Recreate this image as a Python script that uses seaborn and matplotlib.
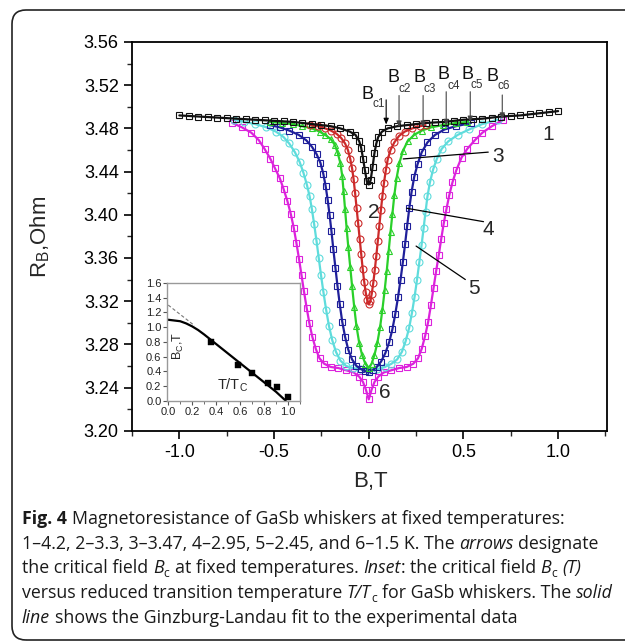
import matplotlib
matplotlib.use("Agg")
import matplotlib.pyplot as plt
import seaborn as sns
from matplotlib.patches import FancyBboxPatch
from matplotlib.transforms import IdentityTransform
from matplotlib.ticker import MultipleLocator, FormatStrFormatter

# --- data: R_B (Ohm) versus B (T) ---
black_b = [-1.0, -0.95, -0.9, -0.85, -0.8, -0.75, -0.7, -0.65, -0.6, -0.55, -0.5, -0.45, -0.4, -0.35,
           -0.3, -0.25, -0.2, -0.15, -0.1, -0.07, -0.05, -0.04, -0.03, -0.02, -0.01, 0.0, 0.01, 0.02,
           0.03, 0.04, 0.05, 0.07, 0.1, 0.15, 0.2, 0.25, 0.3, 0.35, 0.4, 0.45, 0.5, 0.55, 0.6, 0.65,
           0.7, 0.75, 0.8, 0.85, 0.9, 0.95, 1.0]
black_r = [3.492, 3.4915, 3.491, 3.4905, 3.490, 3.4895, 3.489, 3.4885, 3.488, 3.4875, 3.487, 3.4865,
           3.486, 3.485, 3.484, 3.483, 3.482, 3.480, 3.477, 3.474, 3.468, 3.462, 3.452, 3.441, 3.431,
           3.428, 3.432, 3.444, 3.457, 3.466, 3.472, 3.477, 3.480, 3.482, 3.483, 3.484, 3.485, 3.4855,
           3.486, 3.487, 3.488, 3.4885, 3.489, 3.490, 3.491, 3.4915, 3.492, 3.493, 3.494, 3.495, 3.496]

red_b = [-0.31, -0.27, -0.23, -0.2, -0.17, -0.145, -0.125, -0.11, -0.098, -0.088, -0.08, -0.072,
         -0.064, -0.056, -0.048, -0.04, -0.032, -0.024, -0.016, -0.008, 0.0, 0.008, 0.016, 0.024,
         0.032, 0.04, 0.048, 0.056, 0.064, 0.072, 0.08, 0.09, 0.1, 0.115, 0.135, 0.16, 0.19, 0.23,
         0.27, 0.3]
red_r = [3.483, 3.482, 3.480, 3.478, 3.475, 3.471, 3.466, 3.460, 3.452, 3.443, 3.433, 3.420, 3.406,
         3.392, 3.378, 3.364, 3.350, 3.338, 3.328, 3.321, 3.317, 3.320, 3.327, 3.337, 3.349, 3.362,
         3.376, 3.390, 3.404, 3.417, 3.429, 3.441, 3.451, 3.460, 3.467, 3.473, 3.477, 3.480, 3.482,
         3.483]

green_b = [-0.52, -0.46, -0.4, -0.35, -0.3, -0.26, -0.23, -0.2, -0.18, -0.165, -0.15, -0.14, -0.133,
           -0.125, -0.117, -0.108, -0.098, -0.088, -0.077, -0.065, -0.05, -0.035, -0.018, 0.0, 0.015,
           0.03, 0.045, 0.06, 0.072, 0.084, 0.095, 0.105, 0.115, 0.125, 0.135, 0.147, 0.162, 0.18,
           0.205, 0.24, 0.28, 0.33, 0.39, 0.46, 0.52]
green_r = [3.486, 3.485, 3.484, 3.482, 3.480, 3.477, 3.474, 3.470, 3.465, 3.458, 3.448, 3.436, 3.422,
           3.405, 3.388, 3.370, 3.352, 3.334, 3.315, 3.297, 3.281, 3.270, 3.262, 3.258, 3.262, 3.270,
           3.281, 3.296, 3.312, 3.330, 3.348, 3.366, 3.384, 3.401, 3.418, 3.434, 3.448, 3.459, 3.468,
           3.474, 3.478, 3.481, 3.483, 3.485, 3.486]

blue_b = [-0.52, -0.47, -0.42, -0.37, -0.33, -0.3, -0.275, -0.255, -0.24, -0.228, -0.217, -0.207,
          -0.197, -0.187, -0.176, -0.165, -0.153, -0.14, -0.125, -0.108, -0.088, -0.065, -0.04,
          -0.018, 0.0, 0.02, 0.042, 0.065, 0.088, 0.108, 0.125, 0.14, 0.155, 0.168, 0.18, 0.192,
          0.203, 0.214, 0.226, 0.24, 0.258, 0.28, 0.31, 0.35, 0.4, 0.46, 0.54]
blue_r = [3.483, 3.481, 3.478, 3.474, 3.469, 3.463, 3.456, 3.448, 3.438, 3.427, 3.414, 3.400, 3.385,
          3.368, 3.351, 3.334, 3.317, 3.301, 3.287, 3.275, 3.266, 3.260, 3.257, 3.255, 3.254, 3.256,
          3.259, 3.264, 3.272, 3.282, 3.294, 3.308, 3.324, 3.340, 3.356, 3.373, 3.390, 3.406, 3.421,
          3.435, 3.447, 3.458, 3.467, 3.474, 3.479, 3.482, 3.485]

cyan_b = [-0.71, -0.66, -0.6, -0.54, -0.49, -0.45, -0.42, -0.39, -0.365, -0.345, -0.327, -0.312,
          -0.3, -0.288, -0.276, -0.264, -0.252, -0.239, -0.225, -0.21, -0.193, -0.173, -0.15, -0.12,
          -0.085, -0.045, 0.0, 0.045, 0.085, 0.12, 0.15, 0.175, 0.195, 0.213, 0.228, 0.242, 0.255,
          0.267, 0.279, 0.29, 0.3, 0.31, 0.323, 0.34, 0.36, 0.385, 0.42, 0.47, 0.53, 0.6, 0.68]
cyan_r = [3.488, 3.486, 3.484, 3.481, 3.477, 3.472, 3.466, 3.458, 3.449, 3.439, 3.428, 3.417, 3.405,
          3.391, 3.376, 3.360, 3.344, 3.328, 3.312, 3.297, 3.284, 3.273, 3.265, 3.260, 3.258, 3.257,
          3.256, 3.257, 3.259, 3.262, 3.266, 3.273, 3.283, 3.295, 3.309, 3.324, 3.340, 3.356, 3.372,
          3.388, 3.403, 3.417, 3.430, 3.442, 3.452, 3.461, 3.468, 3.474, 3.479, 3.484, 3.488]

pink_b = [-0.72, -0.67, -0.62, -0.58, -0.55, -0.52, -0.495, -0.47, -0.45, -0.43, -0.412, -0.396,
          -0.382, -0.368, -0.355, -0.342, -0.328, -0.314, -0.298, -0.28, -0.26, -0.235, -0.2, -0.16,
          -0.12, -0.08, -0.05, -0.03, -0.015, 0.0, 0.015, 0.03, 0.05, 0.08, 0.12, 0.16, 0.2, 0.235,
          0.26, 0.28, 0.298, 0.314, 0.328, 0.342, 0.356, 0.37, 0.383, 0.396, 0.41, 0.425, 0.442,
          0.462, 0.49, 0.52, 0.56, 0.6, 0.65, 0.71]
pink_r = [3.485, 3.481, 3.476, 3.469, 3.461, 3.452, 3.443, 3.434, 3.424, 3.413, 3.401, 3.388, 3.374,
          3.359, 3.344, 3.329, 3.314, 3.300, 3.287, 3.276, 3.267, 3.262, 3.259, 3.258, 3.256, 3.254,
          3.250, 3.245, 3.238, 3.229, 3.238, 3.245, 3.250, 3.254, 3.256, 3.258, 3.259, 3.262, 3.267,
          3.276, 3.288, 3.301, 3.316, 3.332, 3.348, 3.363, 3.378, 3.392, 3.405, 3.418, 3.430, 3.441,
          3.453, 3.461, 3.469, 3.476, 3.482, 3.488]

# inset: critical field vs reduced temperature
inset_t = [0.36, 0.58, 0.70, 0.83, 0.91, 1.0]
inset_bc = [0.80, 0.49, 0.38, 0.24, 0.18, 0.05]
fit_t = [0.0, 0.05, 0.1, 0.15, 0.2, 0.25, 0.3, 0.4, 0.5, 0.6, 0.7, 0.8, 0.9, 0.98]
fit_bc = [1.10, 1.09, 1.08, 1.05, 1.01, 0.96, 0.90, 0.77, 0.64, 0.51, 0.38, 0.25, 0.12, 0.0]
dash_t = [0.0, 0.22]
dash_bc = [1.30, 1.02]

sns.set_style("ticks")
plt.rcParams["font.family"] = ["Liberation Sans", "DejaVu Sans"]
plt.rcParams["mathtext.default"] = "regular"
plt.rcParams["axes.unicode_minus"] = False

W, H = 625, 643
fig = plt.figure(figsize=(W / 100, H / 100), dpi=100)


def fx(x):
    return x / W


def fy(y):
    return 1 - y / H


ax = fig.add_axes([fx(132), fy(430.7), (607 - 132) / W, (430.7 - 42) / H])

curves = [
    (pink_b, pink_r, "#dc22dc", "s"),
    (cyan_b, cyan_r, "#5fdcdc", "o"),
    (blue_b, blue_r, "#1f1f9a", "s"),
    (green_b, green_r, "#2ad02a", "^"),
    (red_b, red_r, "#cc2a2a", "o"),
    (black_b, black_r, "#111111", "s"),
]
for b, r, c, m in curves:
    sns.lineplot(x=b, y=r, ax=ax, sort=False, color=c, lw=1.6, marker=m, markersize=5,
                 markerfacecolor="none", markeredgecolor=c, markeredgewidth=0.8)

ax.set_xlim(-1.25, 1.258)
ax.set_ylim(3.20, 3.56)
ax.set_xticks([-1.0, -0.5, 0.0, 0.5, 1.0])
ax.xaxis.set_major_formatter(FormatStrFormatter("%.1f"))
ax.xaxis.set_minor_locator(MultipleLocator(0.25))
ax.yaxis.set_major_locator(MultipleLocator(0.04))
ax.yaxis.set_minor_locator(MultipleLocator(0.02))
ax.yaxis.set_major_formatter(FormatStrFormatter("%.2f"))
ax.tick_params(which="major", direction="out", length=6, width=1.2, labelsize=13, colors="black")
ax.tick_params(which="minor", direction="out", length=3.5, width=1.0)
for s in ax.spines.values():
    s.set_linewidth(1.3)
    s.set_color("black")
ax.set_xlabel("")
ax.set_ylabel("")

fig.text(fx(370), fy(482), "B,T", fontsize=16, ha="center", va="center")
fig.text(fx(40), fy(237), "R$_{B}$,Ohm", fontsize=16, ha="center", va="center", rotation=90)

# critical field arrows
bc_x = [0.092, 0.160, 0.287, 0.409, 0.536, 0.705]
bc_top = [3.509, 3.513, 3.513, 3.5165, 3.5165, 3.5135]
bc_tip = [3.481, 3.4785, 3.4785, 3.480, 3.483, 3.486]
bc_B = [(-0.008, 3.511), (0.133, 3.527), (0.266, 3.527), (0.393, 3.5295), (0.520, 3.5295), (0.652, 3.5285)]
bc_sub = [(0.052, 3.5025), (0.189, 3.5165), (0.321, 3.5165), (0.448, 3.519), (0.570, 3.520), (0.713, 3.519)]
for i in range(6):
    col = "black" if i == 0 else "#444444"
    ax.annotate("", xy=(bc_x[i], bc_tip[i]), xytext=(bc_x[i], bc_top[i]),
                arrowprops=dict(arrowstyle="-|>,head_length=0.35,head_width=0.15", color=col, lw=0.8))
    ax.text(*bc_B[i], "B", fontsize=13, ha="center", va="center", color="#111111")
    ax.text(*bc_sub[i], "c%d" % (i + 1), fontsize=8.5, ha="center", va="center", color="#333333")

# curve numbers and leader lines
ax.text(0.946, 3.4745, "1", fontsize=15, ha="center", va="center")
ax.text(0.028, 3.402, "2", fontsize=15, ha="center", va="center")
ax.text(0.684, 3.4535, "3", fontsize=15, ha="center", va="center")
ax.text(0.631, 3.386, "4", fontsize=15, ha="center", va="center")
ax.text(0.557, 3.332, "5", fontsize=15, ha="center", va="center")
ax.text(0.086, 3.235, "6", fontsize=15, ha="center", va="center")
ax.plot([0.182, 0.631], [3.4517, 3.458], color="black", lw=0.9)
ax.plot([0.201, 0.606], [3.406, 3.3936], color="black", lw=0.9)
ax.plot([0.250, 0.510], [3.371, 3.340], color="black", lw=0.9)

# inset
axin = fig.add_axes([fx(167), fy(401), 133 / W, 118 / H])
sns.lineplot(x=fit_t, y=fit_bc, ax=axin, sort=False, color="black", lw=1.6)
sns.lineplot(x=dash_t, y=dash_bc, ax=axin, sort=False, color="#777777", lw=0.8, linestyle=(0, (3, 2)))
sns.scatterplot(x=inset_t, y=inset_bc, ax=axin, marker="s", s=22, color="black", edgecolor="black",
                linewidth=0.3, zorder=3)
axin.set_xlim(-0.01, 1.1)
axin.set_ylim(-0.005, 1.6)
axin.xaxis.set_major_locator(MultipleLocator(0.2))
axin.xaxis.set_minor_locator(MultipleLocator(0.1))
axin.yaxis.set_major_locator(MultipleLocator(0.2))
axin.xaxis.set_major_formatter(FormatStrFormatter("%.1f"))
axin.yaxis.set_major_formatter(FormatStrFormatter("%.1f"))
axin.tick_params(which="major", direction="out", length=3, width=0.8, labelsize=8, pad=1,
                 colors="#555555", labelcolor="#222222")
axin.tick_params(which="minor", direction="out", length=2, width=0.6, colors="#555555")
for s in axin.spines.values():
    s.set_linewidth(1.0)
    s.set_color("#999999")
axin.set_xlabel("")
axin.set_ylabel("")
fig.text(fx(178), fy(346), "B$_{C}$,T", fontsize=9, ha="center", va="center", rotation=90)
fig.text(fx(233), fy(385), "T/T$_{C}$", fontsize=10.5, ha="center", va="center")

# outer rounded frame
frame = FancyBboxPatch((12, 3), 650, 630, boxstyle="round,pad=0,rounding_size=14",
                       transform=IdentityTransform(), fill=False, ec="#222222", lw=1.2)
fig.add_artist(frame)

# caption, drawn piece by piece so styles can change inside a line
renderer = fig.canvas.get_renderer()
cap_font = ["Open Sans", "DejaVu Sans"]


def text_width(s, size, **kw):
    t = fig.text(0, 0, s, fontsize=size, family=cap_font, **kw)
    w = t.get_window_extent(renderer).width
    t.remove()
    return w


def draw_line(x0, y, parts, size):
    space = text_width("a a", size) - text_width("aa", size)
    x = x0
    arts = []
    for txt, style in parts:
        if txt == " ":
            x += space
            continue
        kw = dict(fontsize=size, family=cap_font, color="#1a1a1a", va="baseline", ha="left")
        yy = y
        if style == "b":
            kw["fontweight"] = "bold"
        elif style == "i":
            kw["fontstyle"] = "italic"
        elif style == "sub":
            kw["fontsize"] = size * 0.68
            yy = y + size * 0.3
        t = fig.text(fx(x), fy(yy), txt, **kw)
        x += t.get_window_extent(renderer).width + (1 if style == "sub" else 0)
        arts.append(t)
    return x, arts


SP = (" ", "")
caption = [
    [("Fig. 4", "b"), SP, ("Magnetoresistance of GaSb whiskers at fixed temperatures:", "")],
    [("1\u20134.2, 2\u20133.3, 3\u20133.47, 4\u20132.95, 5\u20132.45, and 6\u20131.5 K. The", ""), SP,
     ("arrows", "i"), SP, ("designate", "")],
    [("the critical field", ""), SP, ("B", "i"), ("c", "sub"), SP, ("at fixed temperatures.", ""), SP,
     ("Inset", "i"), (":", ""), SP, ("the critical field", ""), SP, ("B", "i"), ("c", "sub"), SP,
     ("(T)", "i")],
    [("versus reduced transition temperature", ""), SP, ("T/T", "i"), ("c", "sub"), SP,
     ("for GaSb whiskers. The", ""), SP, ("solid", "i")],
    [("line", "i"), SP, ("shows the Ginzburg-Landau fit to the experimental data", "")],
]
baselines = [524, 549, 573, 598, 623]

end, tmp = draw_line(22, baselines[3], caption[3], 12)
for t in tmp:
    t.remove()
cap_size = 12 * (612 - 22) / (end - 22)
for y, parts in zip(baselines, caption):
    draw_line(22, y, parts, cap_size)

fig.savefig("out.png", dpi=100)
plt.close(fig)
